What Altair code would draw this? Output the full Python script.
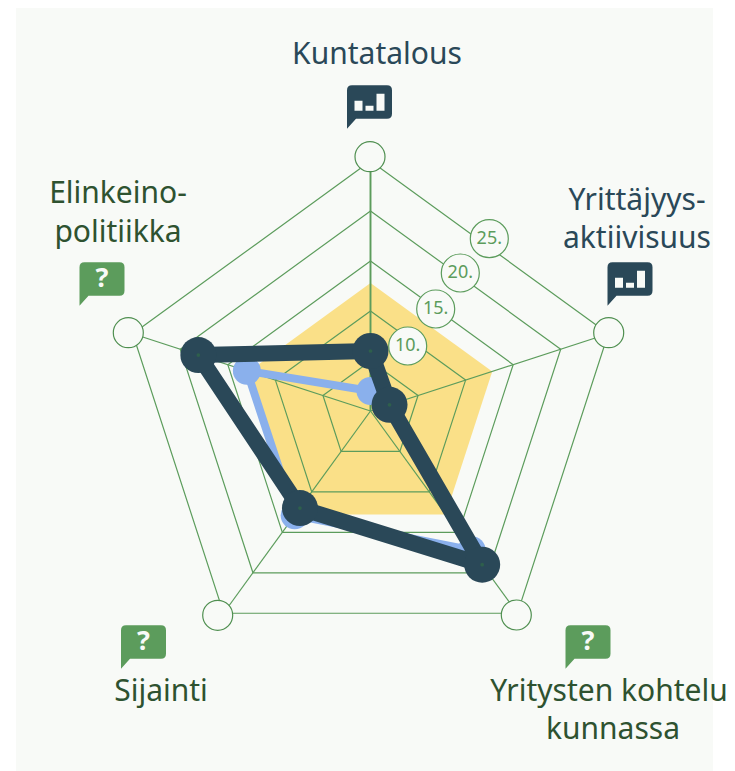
import math
import altair as alt
import pandas as pd

# ---------- data ----------
axes_names = ["Kuntatalous", "Yrittäjyysaktiivisuus", "Yritysten kohtelu kunnassa", "Sijainti", "Elinkeinopolitiikka"]
ring_radii = [50, 100, 150, 200, 250]
dark_values = [60, 20, 190, 120, 181]
blue_values = [20, 20, 172, 129, 130]
yellow_values = [128, 128, 128, 128, 128]
outer_x = [370, 608.7, 516.3, 217.7, 128.3]
outer_y = [156.7, 332.7, 615, 615.3, 332.7]
rank_labels = ["10.", "15.", "20.", "25."]
rank_x = [407.7, 435.7, 460.3, 489.3]
rank_y = [346, 309, 273, 238.7]
title_lines = ["Kuntatalous", "Yrittäjyys-", "aktiivisuus", "Yritysten kohtelu", "kunnassa", "Sijainti", "Elinkeino-", "politiikka"]
title_x = [377, 637, 637, 609, 613, 161, 118, 118]
title_y = [55, 201, 239, 692, 730, 692, 194, 233]
title_col = ["#2a4858", "#2a4858", "#2a4858", "#2e5230", "#2e5230", "#2e5230", "#2e5230", "#2e5230"]
icon_bar_x = [369.5, 630]
icon_bar_y = [102, 279]
icon_q_x = [102, 143.5, 588]
icon_q_y = [279, 642, 642]

CX, CY = 370.5, 411
W, H = 719, 763
BG = "#f8faf7"
GREEN = "#5c9c5c"
DARK = "#2a4858"
BLUE = "#8ab0ec"
YELLOW = "#fae088"


def polar(r, i):
    a = 2 * math.pi * i / 5
    return CX + r * math.sin(a), CY - r * math.cos(a)


def series(values, closed=True):
    rows = []
    seq = list(range(5)) + ([0] if closed else [])
    for k, i in enumerate(seq):
        x, y = polar(values[i], i)
        rows.append({"x": x, "y": y, "k": k})
    return pd.DataFrame(rows)


X = alt.X("x:Q", scale=alt.Scale(domain=[8, 8 + W], range=[0, W]), axis=None)
Y = alt.Y("y:Q", scale=alt.Scale(domain=[8 + H, 8], range=[H, 0]), axis=None)
ORDER = alt.Order("k:Q")

bg = alt.Chart(pd.DataFrame({"x": [16], "x2": [713], "y": [8], "y2": [771]})).mark_rect(color=BG).encode(
    x=X, x2="x2:Q", y=Y, y2="y2:Q")

yellow = alt.Chart(series(yellow_values)).mark_line(fill=YELLOW, stroke=YELLOW, strokeWidth=0).encode(
    x=X, y=Y, order=ORDER)

ring_rows = []
for r in ring_radii:
    d = series([r] * 5)
    d["ring"] = r
    ring_rows.append(d)
rings = alt.Chart(pd.concat(ring_rows)).mark_line(color=GREEN, strokeWidth=1.2).encode(
    x=X, y=Y, order=ORDER, detail="ring:N")

spoke_rows = []
for i in range(5):
    x, y = polar(250, i)
    spoke_rows += [{"x": CX, "y": CY, "k": 0, "s": i}, {"x": x, "y": y, "k": 1, "s": i}]
spokes = alt.Chart(pd.DataFrame(spoke_rows)).mark_line(color=GREEN, strokeWidth=1.2).encode(
    x=X, y=Y, order=ORDER, detail="s:N")
top_spoke = alt.Chart(pd.DataFrame(spoke_rows[:2])).mark_line(color=GREEN, strokeWidth=1.8).encode(
    x=X, y=Y, order=ORDER)

outer = alt.Chart(pd.DataFrame({"x": outer_x, "y": outer_y})).mark_point(
    filled=True, fill=BG, stroke="#4f8f50", strokeWidth=1.2, size=900, opacity=1).encode(x=X, y=Y)

rank_df = pd.DataFrame({"x": rank_x, "y": rank_y, "t": rank_labels})
rank_pts = alt.Chart(rank_df).mark_point(
    filled=True, fill=BG, stroke=GREEN, strokeWidth=1.2, size=1444, opacity=1).encode(x=X, y=Y)
rank_txt = alt.Chart(rank_df).mark_text(font="Noto Sans", fontSize=18, color=GREEN, baseline="middle", align="center").encode(
    x=X, y=Y, text="t:N")

blue_line = alt.Chart(series(blue_values)).mark_line(color=BLUE, strokeWidth=8, strokeJoin="round").encode(x=X, y=Y, order=ORDER)
blue_pts = alt.Chart(series(blue_values, closed=False)).mark_point(filled=True, color=BLUE, size=784, opacity=1).encode(x=X, y=Y)
dark_line = alt.Chart(series(dark_values)).mark_line(color=DARK, strokeWidth=16, strokeJoin="round").encode(x=X, y=Y, order=ORDER)
dark_pts = alt.Chart(series(dark_values, closed=False)).mark_point(filled=True, color=DARK, size=1296, opacity=1).encode(x=X, y=Y)
dark_dots = alt.Chart(series(dark_values, closed=False)).mark_point(filled=True, color="#2e5f4c", size=14, opacity=1).encode(x=X, y=Y)


# speech bubble in units of 1/25 px (symbol size 2500 -> half-width 25px)
def u(v):
    return f"{v / 25:.3f}"


def bubble():
    w, h, r = 22.5, 16.8, 5
    return (f"M{u(-w + r)} {u(-h)}L{u(w - r)} {u(-h)}Q{u(w)} {u(-h)} {u(w)} {u(-h + r)}"
            f"L{u(w)} {u(h - r)}Q{u(w)} {u(h)} {u(w - r)} {u(h)}L{u(-w + 9)} {u(h)}L{u(-w)} {u(h + 10)}"
            f"L{u(-w)} {u(-h + r)}Q{u(-w)} {u(-h)} {u(-w + r)} {u(-h)}Z")


def bars():
    out = ""
    base = 8.7
    for x0, hgt in [(-15, 10), (-4, 5), (7, 17)]:
        out += f"M{u(x0)} {u(base)}L{u(x0 + 8)} {u(base)}L{u(x0 + 8)} {u(base - hgt)}L{u(x0)} {u(base - hgt)}Z"
    return out


bar_df = pd.DataFrame({"x": icon_bar_x, "y": icon_bar_y})
q_df = pd.DataFrame({"x": icon_q_x, "y": icon_q_y, "t": ["?"] * 3})
bar_icons = alt.Chart(bar_df).mark_point(shape=bubble(), filled=True, color=DARK, size=2500, opacity=1).encode(x=X, y=Y)
bar_marks = alt.Chart(bar_df).mark_point(shape=bars(), filled=True, color=BG, size=2500, opacity=1).encode(x=X, y=Y)
q_icons = alt.Chart(q_df).mark_point(shape=bubble(), filled=True, color=GREEN, size=2500, opacity=1).encode(x=X, y=Y)
q_txt = alt.Chart(q_df).mark_text(font="Noto Sans", fontSize=27, fontWeight="bold", color=BG, baseline="middle", align="center").encode(
    x=X, y=Y, text="t:N")

title_df = pd.DataFrame({"x": title_x, "y": title_y, "t": title_lines, "c": title_col})
titles = alt.Chart(title_df).mark_text(font="Noto Sans", fontSize=30, baseline="middle", align="center").encode(
    x=X, y=Y, text="t:N", color=alt.Color("c:N", scale=None))

chart = alt.layer(
    bg, yellow, rings, spokes, top_spoke, outer, rank_pts, rank_txt,
    blue_line, blue_pts, dark_line, dark_pts, dark_dots,
    bar_icons, bar_marks, q_icons, q_txt, titles,
).properties(width=W, height=H, padding=0, autosize=alt.AutoSizeParams(type="none")).configure_view(stroke=None)

chart.save("out.html", embed_options={"renderer": "svg", "actions": False})
